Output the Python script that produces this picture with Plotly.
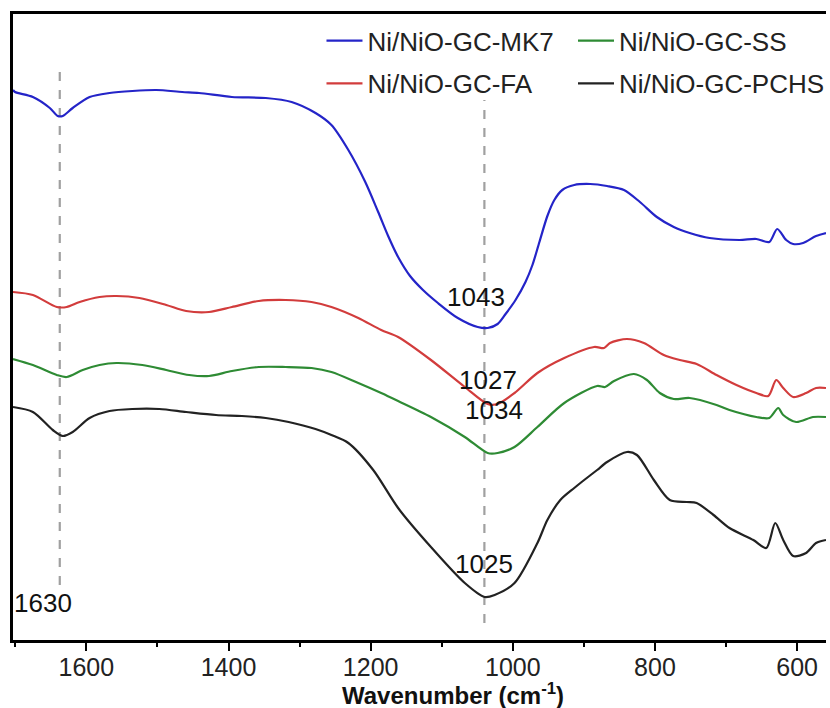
import plotly.graph_objects as go

# ---- data (wavenumber in cm^-1, transmittance in arbitrary units, offset traces) ----
mk7_w = [1703.2, 1700.4, 1675.2, 1651.4, 1640.2, 1633.2, 1619.2, 1595.4, 1567.4, 1535.2, 1501.6,
         1465.2, 1441.4, 1395.2, 1347.6, 1311.2, 1277.6, 1255.2, 1231.4, 1207.6, 1189.4, 1175.4,
         1161.4, 1144.6, 1126.4, 1105.4, 1077.4, 1049.4, 1035.4, 1021.4, 1010.2, 996.2,
         982.2, 972.4, 962.6, 951.4, 941.6, 930.4, 913.6, 891.2, 867.4, 843.6, 821.2, 797.4,
         773.6, 751.2, 723.2, 681.2, 657.4, 639.2, 628.0, 615.4, 605.6, 591.6, 573.4, 559.4]
mk7_t = [110.0, 109.6, 108.6, 106.4, 104.8, 104.8, 106.4, 108.6, 109.4, 109.8, 110.0,
         109.6, 109.4, 108.6, 108.4, 107.6, 105.4, 103.0, 98.0, 91.6, 85.6, 80.8,
         76.6, 72.8, 70.0, 67.4, 64.4, 62.6, 62.4, 63.2, 65.2, 68.0,
         71.6, 75.0, 79.6, 84.8, 88.0, 90.0, 91.0, 91.2, 90.8, 90.0, 87.6, 84.6,
         82.6, 81.4, 80.4, 80.0, 80.2, 79.6, 82.2, 80.0, 79.2, 79.4, 80.8, 81.4]

fa_w = [1703.2, 1675.2, 1641.6, 1627.6, 1609.4, 1581.4, 1557.6, 1525.4, 1487.6, 1459.6, 1427.4,
        1395.2, 1357.4, 1319.6, 1283.2, 1255.2, 1217.4, 1185.2, 1161.4, 1115.2, 1067.6, 1035.4,
        1021.4, 997.6, 965.4, 927.6, 885.6, 871.6, 863.2, 839.4, 815.6, 787.6, 765.2, 741.4,
        713.4, 685.4, 657.4, 640.6, 629.4, 619.6, 605.6, 587.4, 573.4, 559.4]
fa_t = [69.6, 69.0, 66.6, 66.6, 67.6, 68.6, 68.8, 68.4, 67.0, 65.8, 65.6,
        66.6, 67.8, 68.0, 67.6, 66.6, 64.4, 62.0, 60.6, 56.0, 50.6, 47.2,
        47.2, 49.4, 53.4, 56.4, 58.6, 58.4, 59.4, 60.2, 59.4, 57.0, 56.0, 55.2,
        53.0, 51.0, 49.4, 48.8, 52.0, 50.4, 48.6, 49.4, 50.4, 50.4]

ss_w = [1703.2, 1675.2, 1641.6, 1627.6, 1605.2, 1581.4, 1557.6, 1521.2, 1487.6, 1455.4, 1427.4,
        1395.2, 1357.4, 1319.6, 1283.2, 1255.2, 1217.4, 1185.2, 1161.4, 1115.2, 1067.6, 1035.4,
        1021.4, 997.6, 965.4, 927.6, 881.4, 870.2, 857.6, 829.6, 811.4, 793.2, 773.6, 751.2,
        713.4, 695.2, 657.4, 639.2, 626.6, 619.6, 601.4, 577.6, 559.4]
ss_t = [56.2, 55.0, 53.0, 52.6, 54.0, 55.0, 55.4, 55.0, 54.0, 53.0, 52.8,
        53.8, 54.6, 54.6, 54.4, 53.6, 51.4, 49.4, 47.8, 44.6, 40.6, 37.4,
        37.4, 38.6, 42.6, 47.4, 50.8, 50.6, 51.8, 53.2, 52.0, 49.4, 48.2, 48.4,
        47.0, 46.0, 44.6, 44.4, 46.4, 45.0, 43.6, 44.6, 44.6]

pchs_w = [1703.2, 1675.2, 1647.2, 1633.2, 1619.2, 1595.4, 1567.4, 1535.2, 1497.4, 1459.6, 1417.6,
          1381.2, 1347.6, 1315.4, 1277.6, 1255.2, 1231.4, 1196.4, 1161.4, 1115.2, 1067.6, 1039.6,
          1025.6, 997.6, 965.4, 951.4, 933.2, 913.6, 899.6, 881.4, 867.4, 839.4, 825.4, 801.6,
          779.2, 755.4, 741.4, 717.6, 695.2, 661.6, 643.4, 630.8, 619.6, 605.6, 587.4, 573.4, 559.4]
pchs_t = [46.6, 45.6, 42.0, 40.8, 41.6, 44.4, 45.8, 46.2, 46.2, 45.6, 45.0,
          44.8, 44.4, 43.6, 42.2, 41.0, 39.4, 34.0, 26.4, 18.6, 11.4, 8.6,
          9.0, 11.4, 19.4, 24.0, 28.0, 30.4, 32.0, 34.0, 35.6, 37.6, 37.0, 32.0,
          28.0, 27.6, 27.4, 25.0, 22.4, 20.0, 18.4, 23.4, 20.0, 16.8, 17.4, 19.4, 20.0]

series_names = ["Ni/NiO-GC-MK7", "Ni/NiO-GC-FA", "Ni/NiO-GC-SS", "Ni/NiO-GC-PCHS"]
series_colors = ["#2424c8", "#d23c3c", "#2e8b34", "#222222"]

# reference (dashed) lines: wavenumber, top, bottom
ref_lines = [(1637.4, 114.4, 11.0), (1040.0, 108.0, 3.4)]
# peak labels: text, wavenumber, level
peak_labels = [("1043", 1052.0, 68.6), ("1027", 1035.4, 52.0), ("1034", 1027.0, 46.0),
               ("1025", 1041.0, 15.2), ("1630", 1661.0, 7.4)]

FONT = "Arial, Liberation Sans, sans-serif"

fig = go.Figure()
data = [(mk7_w, mk7_t), (fa_w, fa_t), (ss_w, ss_t), (pchs_w, pchs_t)]
legend_of = ["legend", "legend", "legend2", "legend2"]
for (w, t), name, col, lg in zip(data, series_names, series_colors, legend_of):
    fig.add_trace(go.Scatter(x=w, y=t, mode="lines", name=name, legend=lg, legendgroup=name,
                             line=dict(color=col, width=2.2, shape="spline", smoothing=0.8)))

for x0, ytop, ybot in ref_lines:
    fig.add_shape(type="line", xref="x", yref="y", x0=x0, x1=x0, y0=ybot, y1=ytop,
                  line=dict(color="#a0a0a0", width=2.2, dash="dash"), layer="below")

for txt, xw, yv in peak_labels:
    fig.add_annotation(x=xw, y=yv, xref="x", yref="y", text=txt, showarrow=False,
                       font=dict(family=FONT, size=26, color="#111111"))

fig.add_annotation(x=0.541, y=-0.086, xref="paper", yref="paper",
                   text="<b>Wavenumber (cm<sup>-1</sup>)</b>", showarrow=False,
                   xanchor="center", yanchor="middle",
                   font=dict(family=FONT, size=24, color="#111111"))

legend_common = dict(font=dict(family=FONT, size=26, color="#222222"), bgcolor="rgba(0,0,0,0)",
                     borderwidth=0, itemwidth=36, tracegroupgap=6,
                     xref="paper", yref="paper", xanchor="left", yanchor="top")

fig.update_layout(
    width=830, height=708,
    margin=dict(l=13, r=0, t=14, b=68),
    paper_bgcolor="white", plot_bgcolor="white",
    showlegend=True,
    legend=dict(x=(323 - 13) / 817, y=0.995, **legend_common),
    legend2=dict(x=(576 - 13) / 817, y=0.995, **legend_common),
    xaxis=dict(range=[1703.2, 559.4], showgrid=False, zeroline=False,
               showline=True, linecolor="black", linewidth=3, mirror=True,
               ticks="outside", ticklen=8, tickwidth=2, tickcolor="black",
               tickmode="linear", tick0=600, dtick=200, ticklabelstandoff=-5,
               tickfont=dict(family=FONT, size=25, color="#222222"),
               minor=dict(ticks="outside", ticklen=4, tickwidth=2, tickcolor="black",
                          dtick=100, tick0=600, showgrid=False)),
    yaxis=dict(range=[0, 125.2], showgrid=False, zeroline=False, showticklabels=False,
               showline=True, linecolor="black", linewidth=3, mirror=False, ticks=""),
)

fig.write_html("out.html")
